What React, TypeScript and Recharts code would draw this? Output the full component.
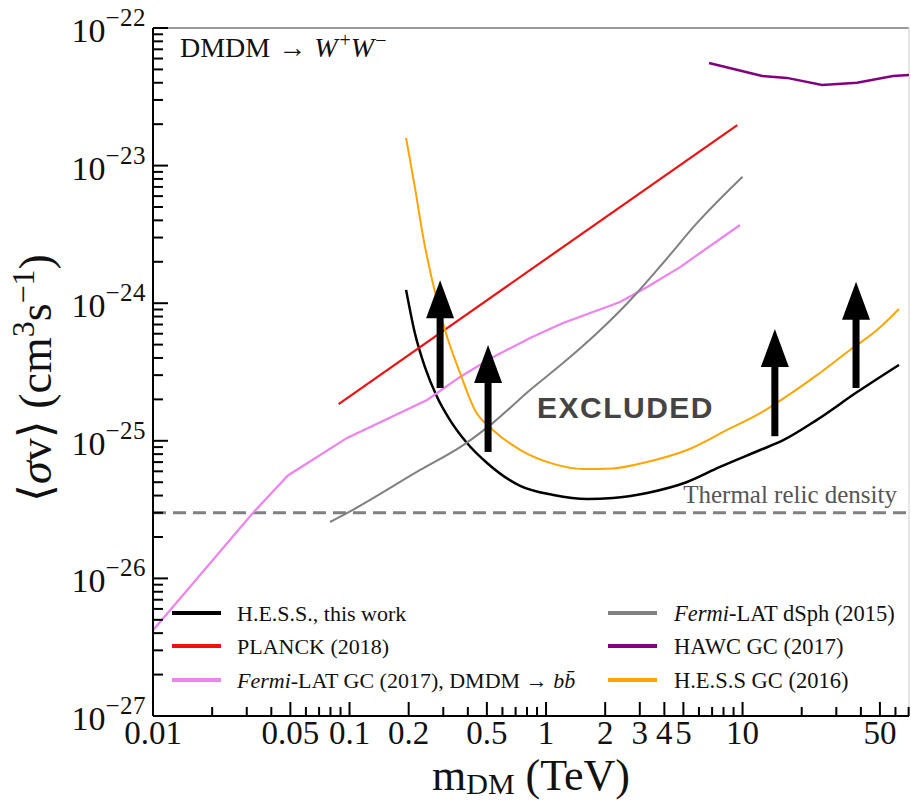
import { LineChart, Line, XAxis, YAxis, ReferenceLine } from "recharts";

const SERIF = "'Liberation Serif', 'DejaVu Serif', serif";
const SANS = "'Liberation Sans', Arial, sans-serif";

const X_MIN = 0.01;
const X_MAX = 70.3;
const Y_MIN = 1e-27;
const Y_MAX = 1e-22;

// H.E.S.S., this work
const hessMass = [0.194, 0.215, 0.242, 0.279, 0.324, 0.396, 0.501, 0.738, 1.09, 1.62, 2.19, 3.27, 5.22, 7.68, 12.3, 16.1, 23.9, 38.3, 62.5];
const hessSigma = [1.25e-24, 6.07e-25, 3.43e-25, 2.08e-25, 1.42e-25, 9.64e-26, 6.9e-26, 4.7e-26, 4.04e-26, 3.78e-26, 3.84e-26, 4.18e-26, 5.02e-26, 6.46e-26, 8.57e-26, 1.01e-25, 1.42e-25, 2.26e-25, 3.56e-25];

// H.E.S.S GC (2016)
const hessGcMass = [0.194, 0.215, 0.237, 0.263, 0.306, 0.365, 0.435, 0.537, 0.738, 1.09, 1.54, 2.19, 3.27, 5.22, 8.34, 12.3, 18.1, 23.9, 35.2, 48.3, 62.5];
const hessGcSigma = [1.59e-23, 6.98e-24, 3.03e-24, 1.48e-24, 6.38e-25, 3.11e-25, 1.67e-25, 1.2e-25, 8.6e-26, 6.8e-26, 6.24e-26, 6.3e-26, 7.02e-26, 8.57e-26, 1.2e-25, 1.59e-25, 2.27e-25, 3.0e-25, 4.57e-25, 6.38e-25, 9.08e-25];

// PLANCK (2018)
const planckMass = [0.088, 9.4];
const planckSigma = [1.85e-25, 1.97e-23];

// Fermi-LAT GC (2017), bb
const fermiGcMass = [0.01, 0.0323, 0.0486, 0.0972, 0.248, 0.365, 0.519, 0.829, 1.22, 2.38, 3.27, 4.81, 9.7];
const fermiGcSigma = [4.2e-27, 3.0e-26, 5.6e-26, 1.05e-25, 1.98e-25, 2.91e-25, 3.95e-25, 5.59e-25, 7.18e-25, 1.02e-24, 1.31e-24, 1.83e-24, 3.7e-24];

// Fermi-LAT dSph (2015)
const dsphMass = [0.0796, 0.097, 0.229, 0.379, 0.537, 0.829, 1.22, 1.82, 2.68, 3.94, 5.87, 10];
const dsphSigma = [2.57e-26, 2.98e-26, 6.14e-26, 9.3e-26, 1.35e-25, 2.34e-25, 3.67e-25, 6.07e-25, 1.05e-24, 1.96e-24, 3.83e-24, 8.3e-24];

// HAWC GC (2017)
const hawcMass = [6.75, 12.6, 16.8, 25.4, 38.2, 58.3, 70.3];
const hawcSigma = [5.57e-23, 4.48e-23, 4.34e-23, 3.86e-23, 4.0e-23, 4.48e-23, 4.55e-23];

const thermalRelic = 3e-26;

// arrows: mass, base, tip
const arrowMass = [0.289, 0.507, 14.6, 37.8];
const arrowBase = [2.42e-25, 8.3e-26, 1.08e-25, 2.42e-25];
const arrowTip = [1.47e-24, 4.97e-25, 6.49e-25, 1.43e-24];

const xLabels = [0.01, 0.05, 0.1, 0.2, 0.5, 1, 2, 3, 4, 5, 10, 50];

const xTicks: number[] = [];
[0.01, 0.1, 1, 10].forEach((d) => {
  for (let k = 1; k <= 9; k++) {
    const v = Number((k * d).toPrecision(3));
    if (v <= X_MAX) xTicks.push(v);
  }
});
const yTicks: number[] = [];
for (let e = -27; e <= -23; e++) {
  for (let k = 1; k <= 9; k++) yTicks.push(Number((k * Math.pow(10, e)).toPrecision(3)));
}
yTicks.push(1e-22);

const zip = (xs: number[], ys: number[]) => xs.map((x, i) => ({ x, y: ys[i] }));

const series = [
  { key: "hess", name: "H.E.S.S., this work", color: "#000000", width: 2.5, type: "monotone", data: zip(hessMass, hessSigma) },
  { key: "planck", name: "PLANCK (2018)", color: "#ee1111", width: 2.2, type: "linear", data: zip(planckMass, planckSigma) },
  { key: "fermigc", name: "Fermi-LAT GC (2017), DMDM → bb", color: "#ee82ee", width: 2.2, type: "linear", data: zip(fermiGcMass, fermiGcSigma) },
  { key: "dsph", name: "Fermi-LAT dSph (2015)", color: "#808080", width: 2, type: "monotone", data: zip(dsphMass, dsphSigma) },
  { key: "hawc", name: "HAWC GC (2017)", color: "#800080", width: 2.5, type: "linear", data: zip(hawcMass, hawcSigma) },
  { key: "hessgc", name: "H.E.S.S GC (2016)", color: "#ffa500", width: 2, type: "monotone", data: zip(hessGcMass, hessGcSigma) },
];

function XTick(props: any) {
  const { x, y, payload } = props;
  const v = payload.value;
  const major = xLabels.some((l) => Math.abs(l - v) < 1e-9);
  return (
    <g>
      <line x1={x} x2={x} y1={y} y2={y - (major ? 14 : 9)} stroke="#000" strokeWidth={2} />
      {major && (
        <text x={x} y={y + 28} textAnchor="middle" fontSize={33} fontFamily={SERIF} fill="#111">
          {String(v)}
        </text>
      )}
    </g>
  );
}

function YTick(props: any) {
  const { x, y, payload } = props;
  const lg = Math.log10(payload.value);
  const exp = Math.round(lg);
  const major = Math.abs(lg - exp) < 1e-6;
  return (
    <g>
      <line x1={x} x2={x + (major ? 15 : 10)} y1={y} y2={y} stroke="#000" strokeWidth={2} />
      {major && (
        <text x={146} y={y + 14} textAnchor="end" fontSize={34} fontFamily={SERIF} fill="#111">
          10
          <tspan dy={-16} fontSize={25} letterSpacing={0.5}>
            {"\u2212" + Math.abs(exp)}
          </tspan>
        </text>
      )}
    </g>
  );
}

function Arrow(p: any) {
  const { y1, x2, y2 } = p;
  const head = 38;
  const hw = 14;
  const sw = 3.5;
  return (
    <g>
      <rect x={x2 - sw} y={y2 + head - 2} width={sw * 2} height={y1 - y2 - head + 2} fill="#000" />
      <polygon points={`${x2},${y2} ${x2 - hw},${y2 + head} ${x2 + hw},${y2 + head}`} fill="#000" />
    </g>
  );
}

function LegendLabel({ s }: { s: (typeof series)[number] }) {
  if (s.key === "fermigc") {
    return (
      <>
        <tspan fontStyle="italic">Fermi</tspan>-LAT GC (2017), DMDM → <tspan fontStyle="italic">b</tspan>
        <tspan fontStyle="italic">{"b\u0304"}</tspan>
      </>
    );
  }
  if (s.key === "dsph") {
    return (
      <>
        <tspan fontStyle="italic">Fermi</tspan>-LAT dSph (2015)
      </>
    );
  }
  return <>{s.name}</>;
}

export default function App() {
  const leftCol = [series[0], series[1], series[2]];
  const rightCol = [series[3], series[4], series[5]];
  const rowY = [613, 646, 680];
  return (
    <div style={{ position: "absolute", left: 0, top: 0, width: 911, height: 801, background: "#fff" }}>
      <LineChart width={911} height={801} margin={{ top: 28, right: 2, bottom: 0, left: 0 }}>
        <XAxis
          dataKey="x"
          type="number"
          scale="log"
          domain={[X_MIN, X_MAX]}
          allowDataOverflow
          ticks={xTicks}
          interval={0}
          tickSize={0}
          tickMargin={0}
          tickLine={false}
          height={85}
          axisLine={{ stroke: "#000", strokeWidth: 2 }}
          tick={<XTick />}
        />
        <YAxis
          type="number"
          scale="log"
          domain={[Y_MIN, Y_MAX]}
          allowDataOverflow
          ticks={yTicks}
          interval={0}
          tickSize={0}
          tickMargin={0}
          tickLine={false}
          width={153}
          axisLine={{ stroke: "#000", strokeWidth: 2 }}
          tick={<YTick />}
        />
        <ReferenceLine y={Y_MAX} stroke="#777" strokeWidth={1.5} ifOverflow="visible" />
        <ReferenceLine x={X_MAX} stroke="#ddd" strokeWidth={1.5} ifOverflow="visible" />
        <ReferenceLine y={thermalRelic} stroke="#808080" strokeWidth={3} strokeDasharray="13 7" />
        {series.map((s) => (
          <Line
            key={s.key}
            data={s.data}
            dataKey="y"
            type={s.type as any}
            stroke={s.color}
            strokeWidth={s.width}
            dot={false}
            activeDot={false}
            isAnimationActive={false}
          />
        ))}
        {arrowMass.map((m, i) => (
          <ReferenceLine
            key={"arrow" + i}
            segment={[
              { x: m, y: arrowBase[i] },
              { x: m, y: arrowTip[i] },
            ]}
            shape={<Arrow />}
            ifOverflow="visible"
          />
        ))}
        <text x={180} y={57} fontSize={28} fontFamily={SERIF} fill="#111">
          DMDM
          <tspan dx={8}>→</tspan>
          <tspan dx={8} fontStyle="italic">W</tspan>
          <tspan dx={2} dy={-10} fontSize={20}>+</tspan>
          <tspan dy={10} fontStyle="italic">W</tspan>
          <tspan dx={1} dy={-10} fontSize={20}>{"\u2212"}</tspan>
        </text>
        <text x={537} y={418} fontSize={30} fontWeight="bold" fontFamily={SANS} fill="#444" letterSpacing={1.5}>
          EXCLUDED
        </text>
        <text x={897} y={503} textAnchor="end" fontSize={25} fontFamily={SERIF} fill="#555">
          Thermal relic density
        </text>
        {leftCol.map((s, i) => (
          <g key={s.key}>
            <line x1={172} x2={221} y1={rowY[i]} y2={rowY[i]} stroke={s.color} strokeWidth={4} />
            <text x={237} y={rowY[i] + 8} fontSize={22} fontFamily={SERIF} fill="#111">
              <LegendLabel s={s} />
            </text>
          </g>
        ))}
        {rightCol.map((s, i) => (
          <g key={s.key}>
            <line x1={608} x2={657} y1={rowY[i]} y2={rowY[i]} stroke={s.color} strokeWidth={4} />
            <text x={674} y={rowY[i] + 8} fontSize={22.5} fontFamily={SERIF} fill="#111">
              <LegendLabel s={s} />
            </text>
          </g>
        ))}
        <text transform="translate(51, 378) rotate(-90)" textAnchor="middle" fontSize={46} fontFamily={SERIF} fill="#111">
          ⟨<tspan fontStyle="italic">σ</tspan>v⟩ (cm
          <tspan dy={-17} fontSize={32}>3</tspan>
          <tspan dy={17}>s</tspan>
          <tspan dy={-17} fontSize={32}>{"\u22121"}</tspan>
          <tspan dy={17}>)</tspan>
        </text>
        <text x={531} y={790} textAnchor="middle" fontSize={44} fontFamily={SERIF} fill="#111">
          m<tspan dy={4} fontSize={30}>DM</tspan>
          <tspan dy={-4}> (TeV)</tspan>
        </text>
      </LineChart>
    </div>
  );
}
